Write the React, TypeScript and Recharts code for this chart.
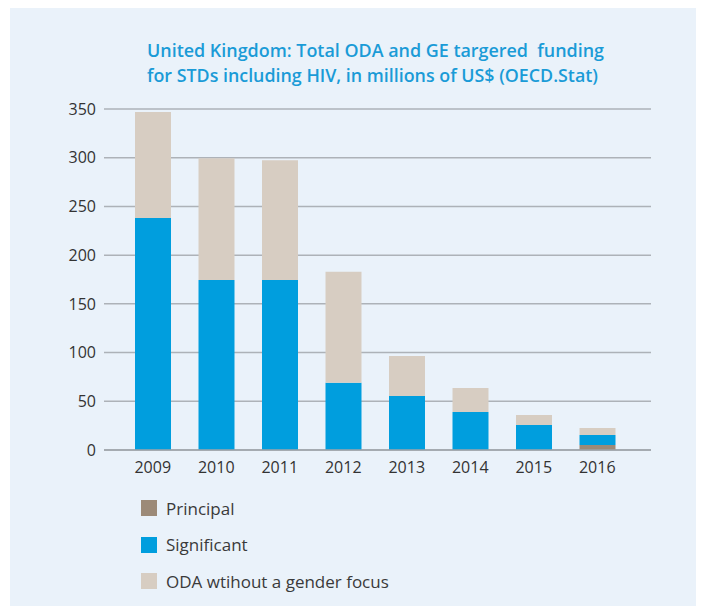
import React from 'react';
import { BarChart, Bar, XAxis, YAxis, CartesianGrid } from 'recharts';

const years = ['2009', '2010', '2011', '2012', '2013', '2014', '2015', '2016'];
const principal = [0, 0, 0, 0, 0, 0, 0, 5.1];
const significant = [238, 174.5, 174.5, 69, 55.5, 39, 25.7, 10.3];
const withoutFocus = [109, 125, 123, 114, 41, 24.7, 10.3, 7.2];
const yTicks = [0, 50, 100, 150, 200, 250, 300, 350];
const titleLines = [
  'United Kingdom: Total ODA and GE targered  funding',
  'for STDs including HIV, in millions of US$ (OECD.Stat)',
];
const seriesNames = ['Principal', 'Significant', 'ODA wtihout a gender focus'];
const seriesColors = ['#9c8a78', '#009ede', '#d7cdc2'];

const data = years.map((y, i) => ({
  year: y,
  principal: principal[i],
  significant: significant[i],
  without: withoutFocus[i],
}));

const FONT = '"Open Sans", "Noto Sans", sans-serif';

export default function App() {
  return (
    <div style={{ position: 'relative', width: 704, height: 614, margin: -8, background: '#ffffff', fontFamily: FONT }}>
      <div style={{ position: 'absolute', left: 10, top: 7, width: 690, height: 607, background: '#eaf2fa' }}>
        <BarChart
          width={690}
          height={607}
          data={data}
          margin={{ top: 102, right: 49, left: 0, bottom: 134 }}
        >
          <CartesianGrid vertical={false} stroke="#adb2b8" strokeWidth={1.5} />
          <XAxis
            dataKey="year"
            height={30}
            padding={{ left: 17, right: 22 }}
            tickLine={false}
            tickSize={0}
            tickMargin={12}
            axisLine={{ stroke: '#9ea3a9', strokeWidth: 1.5 }}
            tick={{ fill: '#333333', fontSize: 16, fontFamily: FONT }}
          />
          <YAxis
            width={94}
            domain={[0, 350]}
            ticks={yTicks}
            interval={0}
            axisLine={false}
            tickLine={false}
            tickSize={0}
            tickMargin={8}
            tick={{ fill: '#333333', fontSize: 16, fontFamily: FONT }}
          />
          <Bar dataKey="principal" stackId="a" fill={seriesColors[0]} barSize={36} isAnimationActive={false} />
          <Bar dataKey="significant" stackId="a" fill={seriesColors[1]} barSize={36} isAnimationActive={false} />
          <Bar dataKey="without" stackId="a" fill={seriesColors[2]} barSize={36} isAnimationActive={false} />
        </BarChart>
        <svg width={690} height={100} style={{ position: 'absolute', left: 0, top: 0 }}>
          <text x={137} y={50} fill="#1a9bd7" fontSize={18} fontWeight={600} fontFamily={FONT}
            textLength={457} lengthAdjust="spacingAndGlyphs" style={{ whiteSpace: 'pre' }}>{titleLines[0]}</text>
          <text x={137} y={75} fill="#1a9bd7" fontSize={18} fontWeight={600} fontFamily={FONT}
            textLength={451} lengthAdjust="spacingAndGlyphs" style={{ whiteSpace: 'pre' }}>{titleLines[1]}</text>
        </svg>
        <div style={{ position: 'absolute', left: 131, top: 483 }}>
          {seriesNames.map((n, i) => (
            <div key={n} style={{ display: 'flex', alignItems: 'center', height: 36.5 }}>
              <div style={{ width: 16, height: 16, background: seriesColors[i], marginRight: 9 }} />
              <span style={{ fontSize: 17, color: '#3a3a3a', fontFamily: FONT }}>{n}</span>
            </div>
          ))}
        </div>
      </div>
    </div>
  );
}
